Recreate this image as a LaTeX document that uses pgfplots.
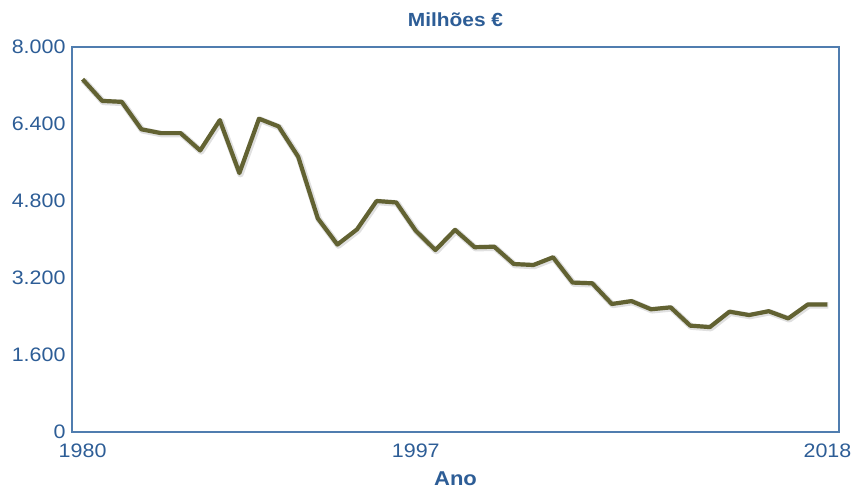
\documentclass[border=0pt]{standalone}
\usepackage{pgfplots}
\pgfplotsset{compat=1.18}
\usepackage{fontspec}
\setmainfont{Liberation Sans}[FakeStretch=1.1]
\definecolor{axisblue}{RGB}{80,125,175}
\definecolor{textblue}{RGB}{45,93,150}
\definecolor{olive}{RGB}{98,98,50}
\begin{document}
\begin{tikzpicture}
\path[use as bounding box] (-72pt,-59pt) rectangle (783pt,432pt);
\begin{axis}[
  at={(0,0)}, anchor=origin,
  scale only axis,
  width=767pt, height=385pt,
  xmin=1979.46, xmax=2018.59,
  ymin=0, ymax=8000,
  xtick={1980,1997,2018},
  xticklabels={1980,1997,2018},
  ytick={0,1600,3200,4800,6400,8000},
  yticklabels={0,1.600,3.200,4.800,6.400,8.000},
  major tick length=0pt,
  tick label style={font=\fontsize{19.5}{19.5}\selectfont, text=textblue},
  xticklabel style={anchor=north, yshift=-8pt},
  yticklabel style={anchor=east, xshift=-3pt},
  axis line style={draw=axisblue, line width=1.6pt},
  title={\textbf{Milhões €}},
  title style={font=\fontsize{19}{19}\selectfont, text=textblue, anchor=center, at={(0.5,1)}, yshift=21pt},
  xlabel={\textbf{Ano}},
  xlabel style={font=\fontsize{20}{20}\selectfont, text=textblue, inner sep=0pt, anchor=center, at={(0.5,0)}, yshift=-47pt},
]
\addplot[draw=black, opacity=0.12, line width=6.5pt, line join=round, shift={(1pt,-1pt)}] coordinates {
(1980,7330)(1981,6880)(1982,6860)(1983,6290)(1984,6210)(1985,6210)(1986,5850)(1987,6480)(1988,5380)(1989,6510)
(1990,6350)(1991,5720)(1992,4440)(1993,3895)(1994,4210)(1995,4800)(1996,4770)(1997,4180)(1998,3780)(1999,4200)
(2000,3840)(2001,3850)(2002,3490)(2003,3470)(2004,3630)(2005,3105)(2006,3090)(2007,2660)(2008,2720)(2009,2550)
(2010,2590)(2011,2210)(2012,2180)(2013,2500)(2014,2430)(2015,2510)(2016,2360)(2017,2650)(2018,2650)
};
\addplot[draw=olive, line width=4.2pt, line join=round] coordinates {
(1980,7330)(1981,6880)(1982,6860)(1983,6290)(1984,6210)(1985,6210)(1986,5850)(1987,6480)(1988,5380)(1989,6510)
(1990,6350)(1991,5720)(1992,4440)(1993,3895)(1994,4210)(1995,4800)(1996,4770)(1997,4180)(1998,3780)(1999,4200)
(2000,3840)(2001,3850)(2002,3490)(2003,3470)(2004,3630)(2005,3105)(2006,3090)(2007,2660)(2008,2720)(2009,2550)
(2010,2590)(2011,2210)(2012,2180)(2013,2500)(2014,2430)(2015,2510)(2016,2360)(2017,2650)(2018,2650)
};
\end{axis}
\end{tikzpicture}
\end{document}
